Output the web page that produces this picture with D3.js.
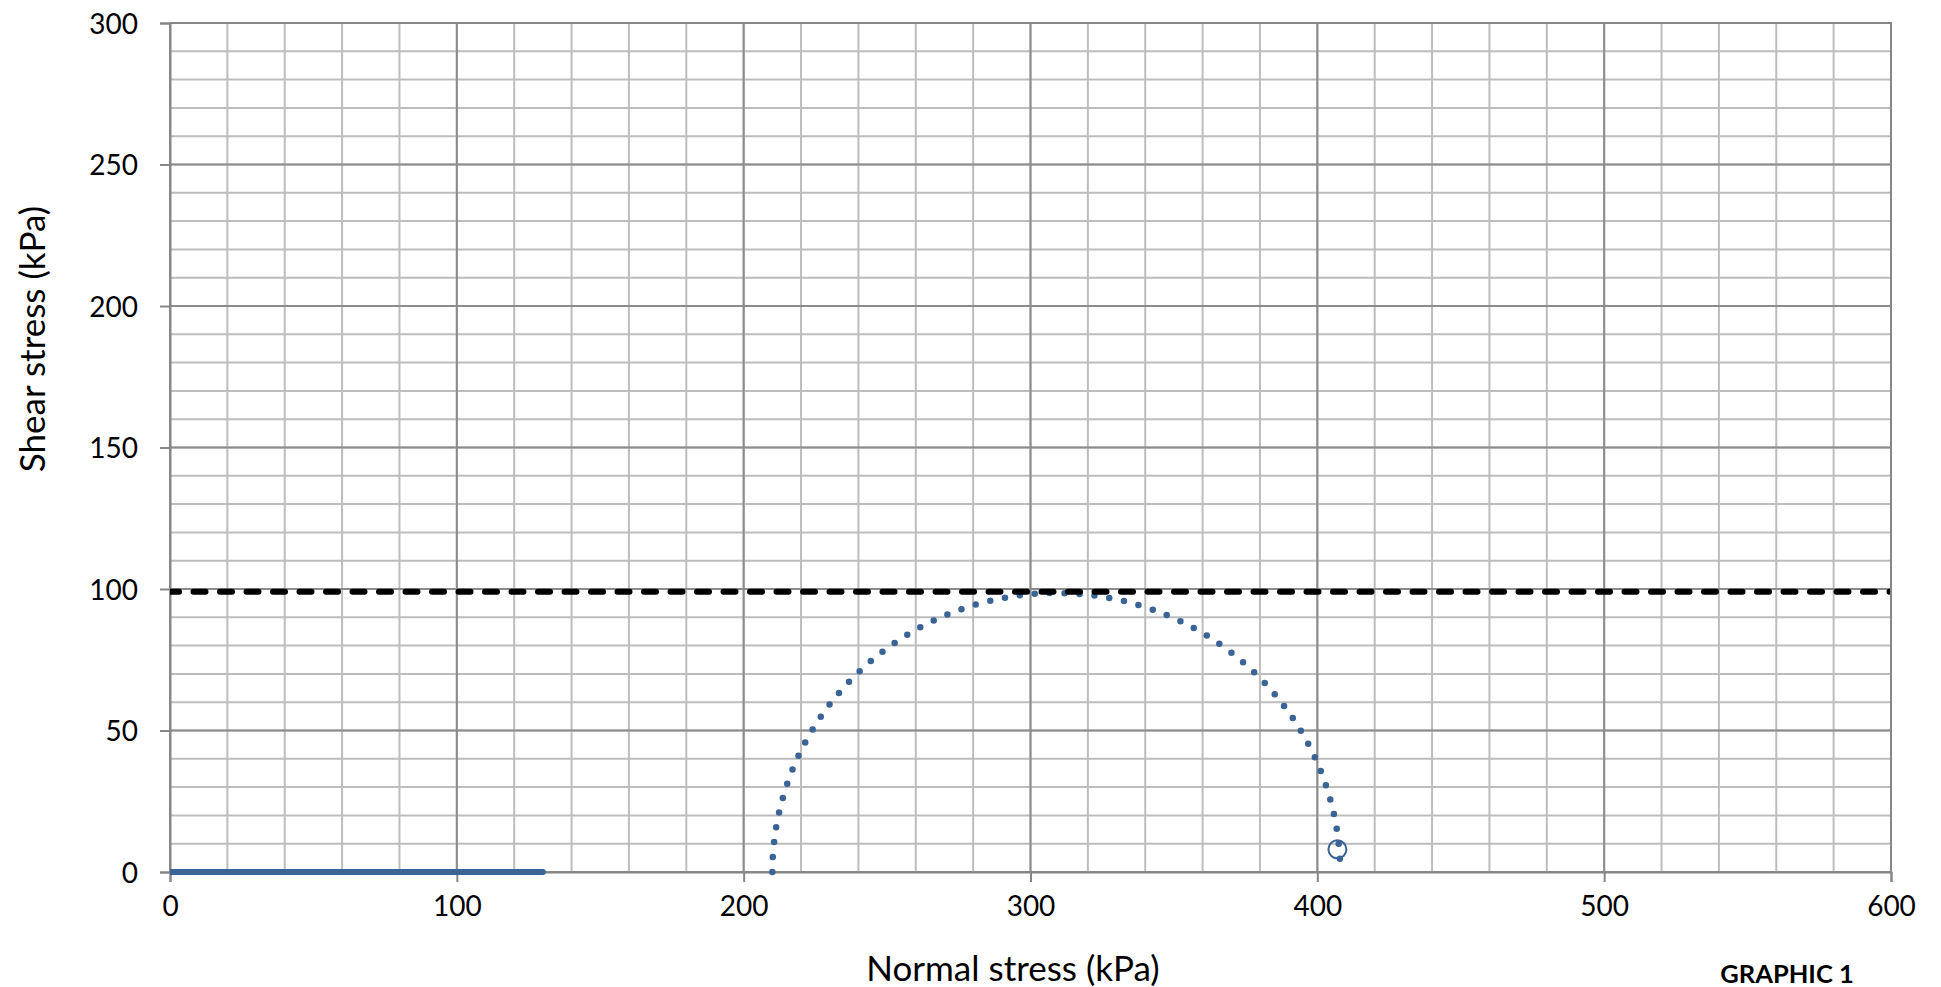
<!DOCTYPE html>
<html>
<head>
<meta charset="utf-8">
<script src="https://cdn.jsdelivr.net/npm/d3@7"></script>
<style>
  html, body { margin: 0; padding: 0; background: #fff; }
  svg { display: block; }
  text { font-family: Lato, "Open Sans", sans-serif; fill: #000; }
</style>
</head>
<body>
<svg id="chart" width="1941" height="987"></svg>
<script>
// ---- data ----
const xTickValues = [0, 100, 200, 300, 400, 500, 600];
const yTickValues = [0, 50, 100, 150, 200, 250, 300];
const xDomain = [0, 600];
const yDomain = [0, 300];
const xTitle = "Normal stress (kPa)";
const yTitle = "Shear stress (kPa)";
const figureLabel = "GRAPHIC 1";

// initial stress state (blue solid line on the σ axis)
const baseLineX = [0, 130];
const baseLineY = [0, 0];
// Mohr circle: σ3 and σ1, and where the dotted arc ends
const sigma3 = 210;
const sigma1 = 408;
const arcEnd = [407.9, 4];
// undrained shear strength (dashed line)
const cuValue = 99;
// open marker
const markerX = [407];
const markerY = [8];

// ---- layout ----
const svg = d3.select("#chart");
const L = 170, R = 1891, T = 23, B = 872;
const x = d3.scaleLinear().domain(xDomain).range([L, R]);
const y = d3.scaleLinear().domain(yDomain).range([B, T]);

const blue = "#3a6396";

// minor grid
const g = svg.append("g");
g.selectAll(".vx").data(x.ticks(30)).join("line")
  .attr("x1", d => x(d)).attr("x2", d => x(d)).attr("y1", T).attr("y2", B)
  .attr("stroke", "#bdbdbd").attr("stroke-width", 2);
g.selectAll(".hy").data(y.ticks(30)).join("line")
  .attr("y1", d => y(d)).attr("y2", d => y(d)).attr("x1", L).attr("x2", R)
  .attr("stroke", "#bdbdbd").attr("stroke-width", 2);
// major grid
g.selectAll(".vX").data(xTickValues).join("line")
  .attr("x1", d => x(d)).attr("x2", d => x(d)).attr("y1", T).attr("y2", B)
  .attr("stroke", "#8c8c8c").attr("stroke-width", 2);
g.selectAll(".hY").data(yTickValues).join("line")
  .attr("y1", d => y(d)).attr("y2", d => y(d)).attr("x1", L).attr("x2", R)
  .attr("stroke", "#8c8c8c").attr("stroke-width", 2);

// axes
const xAxis = d3.axisBottom(x).tickValues(xTickValues).tickSize(10).tickPadding(14);
const yAxis = d3.axisLeft(y).tickValues(yTickValues).tickSize(10).tickPadding(22);
const gx = svg.append("g").attr("transform", `translate(0,${B})`).call(xAxis);
const gy = svg.append("g").attr("transform", `translate(${L},0)`).call(yAxis);
[gx, gy].forEach(a => {
  a.select(".domain").attr("stroke", "#868686").attr("stroke-width", 2);
  a.selectAll(".tick line").attr("stroke", "#868686").attr("stroke-width", 2);
  a.selectAll(".tick text").attr("font-family", "Lato, sans-serif").attr("font-size", 28).attr("fill", "#000");
});
gy.selectAll(".tick text").attr("dy", "0.36em");

// clip
svg.append("clipPath").attr("id", "clip").append("rect")
  .attr("x", L).attr("y", T - 10).attr("width", R - L).attr("height", B - T + 20);

const plot = svg.append("g").attr("clip-path", "url(#clip)");

// base line
plot.append("path")
  .datum(baseLineX.map((v, i) => [v, baseLineY[i]]))
  .attr("d", d3.line().x(d => x(d[0])).y(d => y(d[1])))
  .attr("stroke", blue).attr("stroke-width", 6).attr("stroke-linecap", "round").attr("fill", "none");

// Mohr circle (dotted)
const center = (sigma1 + sigma3) / 2, radius = (sigma1 - sigma3) / 2;
const rx = x(center + radius) - x(center);
const ry = y(0) - y(radius);
plot.append("path")
  .attr("d", `M${x(sigma3)},${y(0)} A${rx},${ry} 0 0 1 ${x(arcEnd[0])},${y(arcEnd[1])}`)
  .attr("fill", "none").attr("stroke", blue).attr("stroke-width", 6.5)
  .attr("stroke-linecap", "round").attr("stroke-dasharray", "0,15");

// dashed strength line
plot.append("line")
  .attr("x1", x(xDomain[0]) - 3).attr("x2", x(xDomain[1]))
  .attr("y1", y(cuValue)).attr("y2", y(cuValue))
  .attr("stroke", "#000").attr("stroke-width", 6)
  .attr("stroke-linecap", "round").attr("stroke-dasharray", "12,14.5");

// open marker
plot.selectAll(".mk").data(markerX.map((v, i) => [v, markerY[i]])).join("circle")
  .attr("cx", d => x(d[0])).attr("cy", d => y(d[1])).attr("r", 9)
  .attr("fill", "none").attr("stroke", blue).attr("stroke-width", 2);

// plot border (top/right)
svg.append("path")
  .attr("d", `M${L},${T} H${R} V${B}`)
  .attr("fill", "none").attr("stroke", "#868686").attr("stroke-width", 2);

// titles
svg.append("text").attr("x", 1013).attr("y", 969).attr("dy", "0.35em")
  .attr("text-anchor", "middle").attr("font-size", 35).text(xTitle);
svg.append("text").attr("transform", "translate(33,339) rotate(-90)").attr("dy", "0.35em")
  .attr("text-anchor", "middle").attr("font-size", 35).text(yTitle);
svg.append("text").attr("x", 1787).attr("y", 974).attr("dy", "0.35em")
  .attr("text-anchor", "middle").attr("font-size", 25.5).attr("font-weight", "bold").text(figureLabel);
</script>
</body>
</html>
